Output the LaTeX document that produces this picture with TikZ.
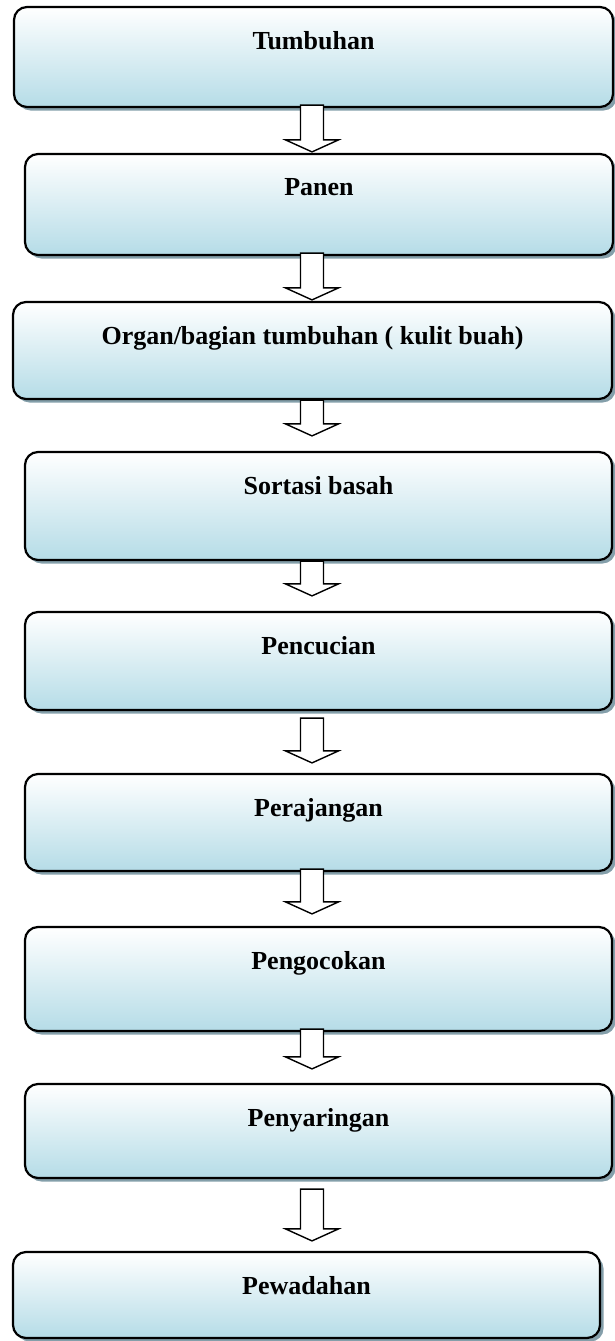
\documentclass[tikz,border=0pt]{standalone}
\usepackage{fontspec}
\setmainfont{Liberation Serif}
\usetikzlibrary{calc,shadows}

\definecolor{boxblue}{HTML}{B5DCE7}
\definecolor{shadowblue}{HTML}{849FAA}

\tikzset{
    stage/.style={draw, rectangle, line width=2.2pt, rounded corners=13pt,
        top color=white, bottom color=boxblue,
        general shadow={fill=shadowblue, shadow xshift=3.5pt, shadow yshift=-3.5pt},
        label={[stagetext]north:#1}},
    stagetext/.style={anchor=north, inner sep=0pt, yshift=-25pt,
        font=\bfseries\fontsize{26}{30}\selectfont},
    blockarrow/.style={draw, line width=1.4pt, fill=white, line join=miter}
}

% hollow arrow: box above, box below, shaft start, space above the lower box
\newcommand{\flowarrow}[4]{%
    \path ($(#1.south -| axis)+(0,#3)$) coordinate (shaft)
          ($(#2.north -| axis)+(0,-#4)$) coordinate (tip);
    \draw[blockarrow] ($(shaft)+(-11.5,0)$) -- ($(tip)+(-11.5,-12)$) -- ($(tip)+(-26.5,-12)$)
        -- (tip) -- ($(tip)+(26.5,-12)$) -- ($(tip)+(11.5,-12)$) -- ($(shaft)+(11.5,0)$) -- cycle;}

\begin{document}
\begin{tikzpicture}[x=1pt, y=-1pt]
    \useasboundingbox (0,0) rectangle (614,1341);
    \coordinate (axis) at (312,0);

    \node[stage=Tumbuhan, minimum width=599pt, minimum height=100pt] (tumbuhan) at (313.5, 57) {};
    \node[stage=Panen, minimum width=588pt, minimum height=101pt] (panen) at (319, 204.5) {};
    \node[stage={Organ/bagian tumbuhan ( kulit buah)}, minimum width=599pt, minimum height=97pt] (organ) at (312.5, 350.5) {};
    \node[stage=Sortasi basah, minimum width=587pt, minimum height=108pt] (sortasi) at (318.5, 506) {};
    \node[stage=Pencucian, minimum width=587pt, minimum height=98pt] (cuci) at (318.5, 661) {};
    \node[stage=Perajangan, minimum width=587pt, minimum height=97pt] (rajang) at (318.5, 822.5) {};
    \node[stage=Pengocokan, minimum width=587pt, minimum height=104pt] (kocok) at (318.5, 979) {};
    \node[stage=Penyaringan, minimum width=587pt, minimum height=94pt] (saring) at (318.5, 1131) {};
    \node[stage=Pewadahan, minimum width=587pt, minimum height=86pt] (wadah) at (306.5, 1295) {};

    \flowarrow{tumbuhan}{panen}{-3}{1}
    \flowarrow{panen}{organ}{-3}{1}
    \flowarrow{organ}{sortasi}{0}{15}
    \flowarrow{sortasi}{cuci}{0}{15}
    \flowarrow{cuci}{rajang}{7}{10}
    \flowarrow{rajang}{kocok}{-3}{12}
    \flowarrow{kocok}{saring}{-3}{14}
    \flowarrow{saring}{wadah}{10}{10}
\end{tikzpicture}
\end{document}
